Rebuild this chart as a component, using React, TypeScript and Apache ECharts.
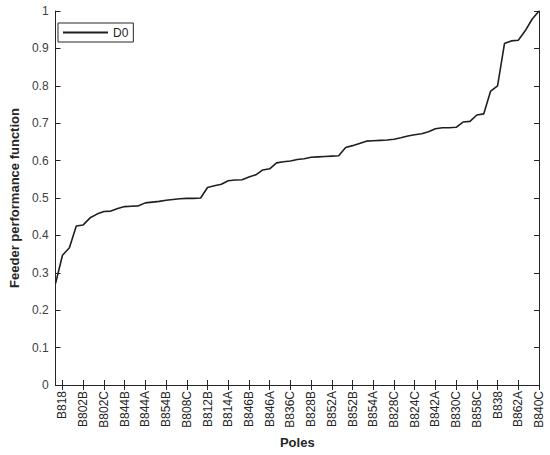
import React, { useEffect, useRef } from "react";
import * as echarts from "echarts";

const tickLabels = [
  "B818", "B802B", "B802C", "B844B", "B844A", "B854B", "B808C", "B812B",
  "B814A", "B846B", "B846A", "B836C", "B828B", "B852A", "B852B", "B854A",
  "B828C", "B824C", "B842A", "B830C", "B858C", "B838", "B862A", "B840C",
];

const d0Values = [
  0.272, 0.347, 0.367, 0.425, 0.428, 0.447, 0.457, 0.464, 0.465, 0.472,
  0.477, 0.478, 0.479, 0.487, 0.489, 0.491, 0.494, 0.496, 0.498, 0.499,
  0.499, 0.5, 0.528, 0.533, 0.537, 0.546, 0.548, 0.549, 0.556, 0.562,
  0.575, 0.578, 0.594, 0.597, 0.599, 0.603, 0.605, 0.609, 0.61, 0.611,
  0.612, 0.613, 0.635, 0.64, 0.646, 0.652, 0.653, 0.654, 0.655, 0.657,
  0.661, 0.666, 0.669, 0.672, 0.677, 0.685, 0.688, 0.688, 0.689, 0.703,
  0.705, 0.722, 0.725, 0.786, 0.8, 0.913, 0.92, 0.922, 0.947, 0.978, 1.0,
];

const labelOffset = 1;
const labelStep = 3;

const categories = d0Values.map((_, i) =>
  (i - labelOffset) % labelStep === 0 ? tickLabels[(i - labelOffset) / labelStep] : ""
);
const showTick = (i: number) => (i - labelOffset) % labelStep === 0;

const AX = "#262626";
const FONT = "Liberation Sans, Arial, sans-serif";

export default function App() {
  const ref = useRef<HTMLDivElement>(null);
  useEffect(() => {
    if (!ref.current) return;
    const chart = echarts.init(ref.current, undefined, { renderer: "svg" });
    chart.setOption({
      animation: false,
      backgroundColor: "#ffffff",
      textStyle: { fontFamily: FONT },
      grid: { left: 47, right: 11, top: 11, bottom: 70, containLabel: false },
      legend: {
        left: 58,
        top: 23,
        orient: "vertical",
        backgroundColor: "#ffffff",
        borderColor: AX,
        borderWidth: 1,
        borderRadius: 0,
        padding: [3, 5, 3, 5],
        itemWidth: 45,
        itemHeight: 2,
        itemGap: 4,
        textStyle: { fontSize: 12, color: AX, fontFamily: FONT, lineHeight: 13 },
        data: [{ name: "D0", icon: "rect", itemStyle: { color: "#1f1f1f" } }],
      },
      xAxis: [
        {
          type: "category",
          data: categories,
          boundaryGap: false,
          name: "Poles",
          nameLocation: "middle",
          nameGap: 50,
          nameTextStyle: { fontSize: 13, fontWeight: "bold", color: AX, fontFamily: FONT },
          axisLine: { show: true, lineStyle: { color: AX, width: 1 } },
          axisTick: { show: true, inside: true, length: 5, interval: (i: number) => showTick(i), lineStyle: { color: AX } },
          axisLabel: {
            show: true,
            interval: (i: number) => showTick(i),
            rotate: 90,
            fontSize: 12,
            color: AX,
            margin: 6,
            fontFamily: FONT,
          },
          splitLine: { show: false },
        },
        {
          type: "category",
          data: categories,
          boundaryGap: false,
          position: "top",
          axisLine: { show: true, lineStyle: { color: AX, width: 1 } },
          axisTick: { show: true, inside: true, length: 5, interval: (i: number) => showTick(i), lineStyle: { color: AX } },
          axisLabel: { show: false },
          splitLine: { show: false },
        },
      ],
      yAxis: [
        {
          type: "value",
          min: 0,
          max: 1,
          interval: 0.1,
          name: "Feeder performance function",
          nameLocation: "middle",
          nameGap: 26,
          nameTextStyle: { fontSize: 13, fontWeight: "bold", color: AX, fontFamily: FONT },
          axisLine: { show: true, lineStyle: { color: AX, width: 1 } },
          axisTick: { show: true, inside: true, length: 5, lineStyle: { color: AX } },
          axisLabel: { fontSize: 12, color: "#404040", margin: 7, fontFamily: FONT },
          splitLine: { show: false },
        },
        {
          type: "value",
          min: 0,
          max: 1,
          interval: 0.1,
          position: "right",
          axisLine: { show: true, lineStyle: { color: AX, width: 1 } },
          axisTick: { show: true, inside: true, length: 5, lineStyle: { color: AX } },
          axisLabel: { show: false },
          splitLine: { show: false },
        },
      ],
      series: [
        {
          name: "D0",
          type: "line",
          data: d0Values,
          xAxisIndex: 0,
          yAxisIndex: 0,
          symbol: "none",
          showSymbol: false,
          lineStyle: { color: "#1f1f1f", width: 1.6 },
          itemStyle: { color: "#1f1f1f" },
        },
      ],
    });
    return () => chart.dispose();
  }, []);
  return (
    <div
      ref={ref}
      style={{ position: "fixed", left: 0, top: 0, width: 550, height: 455 }}
    />
  );
}
